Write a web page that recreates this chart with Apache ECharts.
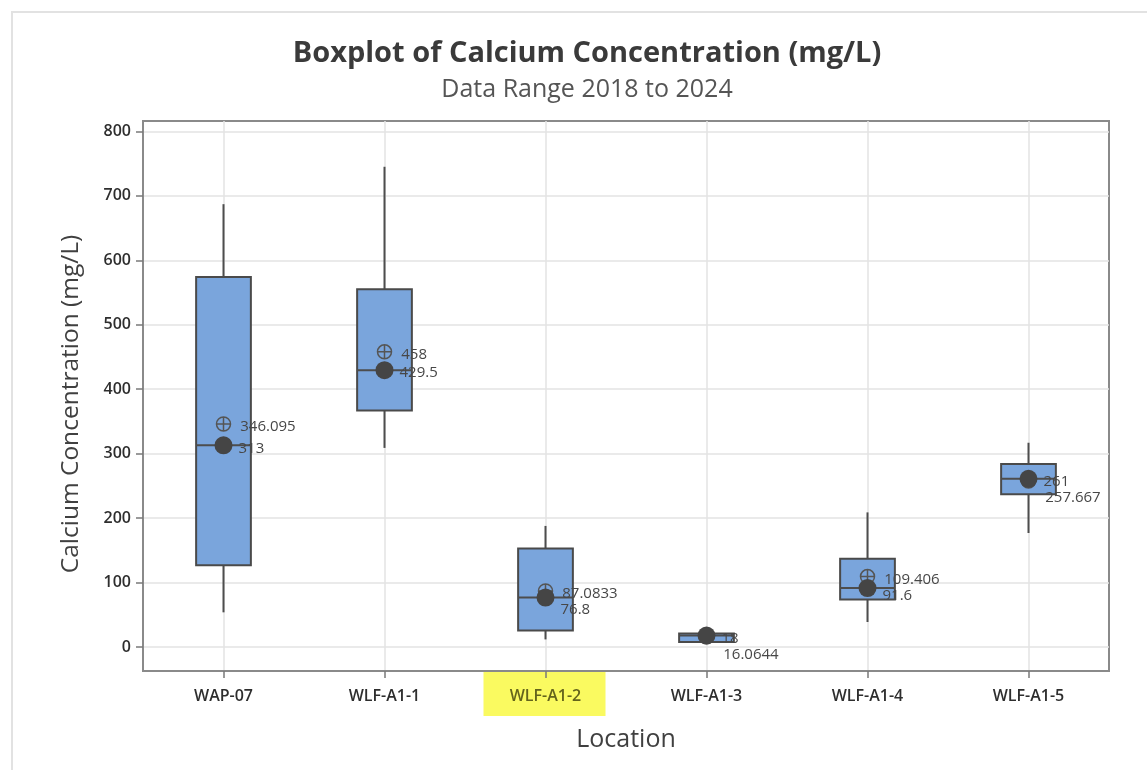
<!DOCTYPE html>
<html><head><meta charset="utf-8">
<script src="https://cdn.jsdelivr.net/npm/echarts@6/dist/echarts.min.js"></script>
<style>html,body{margin:0;padding:0;background:#fff}#c{width:1147px;height:770px}</style>
</head><body><div id="c"></div>
<script>
const categories = ['WAP-07', 'WLF-A1-1', 'WLF-A1-2', 'WLF-A1-3', 'WLF-A1-4', 'WLF-A1-5'];
const whiskerLow = [54, 309, 12, 6, 39, 177];
const q1 = [127, 367, 26, 8, 74, 237];
const median = [313, 429.5, 76.8, 18, 91.6, 261];
const q3 = [574, 555, 153, 21, 137, 284];
const whiskerHigh = [687, 745, 188, 22, 209, 317];
const mean = [346.095, 458, 87.0833, 16.0644, 109.406, 257.667];
const yTicks = [0, 100, 200, 300, 400, 500, 600, 700, 800];
const highlighted = 'WLF-A1-2';

const FONT = '"Open Sans", "Noto Sans", sans-serif';
const chart = echarts.init(document.getElementById('c'), null, {renderer: 'canvas'});

const boxData = categories.map((c, i) => [i, whiskerLow[i], q1[i], median[i], q3[i], whiskerHigh[i]]);
const meanPath = 'path://M1,12 A11,11 0 1,1 23,12 A11,11 0 1,1 1,12 Z M12,1 L12,23 M1,12 L23,12';

function buildOption(meanOffsets, medOffsets, hlX) {
  return {
    animation: false,
    textStyle: {fontFamily: FONT},
    grid: {left: 143, top: 121, right: 38, bottom: 99, show: true, borderColor: '#8a8a8a', borderWidth: 2},
    xAxis: {
      type: 'category', data: categories, boundaryGap: true,
      axisLine: {show: true, onZero: false, lineStyle: {color: '#8a8a8a', width: 2}},
      axisTick: {show: true, inside: false, alignWithLabel: true, length: 7, lineStyle: {color: '#7a7a7a', width: 1.5}},
      axisLabel: {
        fontSize: 16, fontWeight: 600, color: '#2e2e2e', margin: 17, fontFamily: FONT,
        formatter: v => v === highlighted ? '{h|' + v + '}' : v,
        rich: {h: {fontSize: 16, fontWeight: 600, color: '#64641c', fontFamily: FONT}}
      },
      splitLine: {show: true, alignWithLabel: true, lineStyle: {color: '#e3e3e3', width: 1.5}},
      name: 'Location', nameLocation: 'middle', nameGap: 56,
      nameTextStyle: {fontSize: 25, color: '#404040', fontFamily: FONT}
    },
    yAxis: {
      type: 'value', min: -37, max: 816,
      axisLine: {show: true, onZero: false, lineStyle: {color: '#8a8a8a', width: 2}},
      axisTick: {show: true, inside: false, length: 7, customValues: yTicks, lineStyle: {color: '#7a7a7a', width: 1.5}},
      axisLabel: {fontSize: 16, fontWeight: 600, color: '#2e2e2e', margin: 12, customValues: yTicks, fontFamily: FONT},
      splitLine: {show: true, lineStyle: {color: '#e3e3e3', width: 1.5}},
      name: 'Calcium Concentration (mg/L)', nameLocation: 'middle', nameGap: 59,
      nameTextStyle: {fontSize: 24.5, color: '#404040', fontFamily: FONT, padding: [0, 16, 0, 0]}
    },
    graphic: {elements: [
      {type: 'rect', z: -100, shape: {x: 12, y: 12, width: 1200, height: 800}, style: {fill: 'none', stroke: '#e2e2e2', lineWidth: 2}},
      {type: 'text', x: 587, y: 54, style: {text: 'Boxplot of Calcium Concentration (mg/L)', fontSize: 29, fontWeight: 'bold', fontFamily: FONT, fill: '#3a3a3a', align: 'center', verticalAlign: 'middle', textAlign: 'center', textVerticalAlign: 'middle'}},
      {type: 'text', x: 587, y: 90, style: {text: 'Data Range 2018 to 2024', fontSize: 25, fontFamily: FONT, fill: '#555555', align: 'center', verticalAlign: 'middle', textAlign: 'center', textVerticalAlign: 'middle'}},
      {type: 'rect', z: -1, invisible: hlX == null, shape: {x: (hlX || 0) - 62, y: 670, width: 122, height: 46}, style: {fill: '#fafa60'}}
    ]},
    series: [
      {
        type: 'custom', name: 'box', data: boxData, encode: {x: 0, y: [1, 2, 3, 4, 5]}, z: 2,
        renderItem: function (params, api) {
          const i = api.value(0);
          const pLow = api.coord([i, api.value(1)]);
          const pQ1 = api.coord([i, api.value(2)]);
          const pMed = api.coord([i, api.value(3)]);
          const pQ3 = api.coord([i, api.value(4)]);
          const pHigh = api.coord([i, api.value(5)]);
          const half = api.size([1, 0])[0] * 0.17;
          const x = pQ1[0];
          const ls = {stroke: '#4d4d4d', lineWidth: 2};
          return {type: 'group', children: [
            {type: 'line', shape: {x1: x, y1: pHigh[1], x2: x, y2: pQ3[1]}, style: ls},
            {type: 'line', shape: {x1: x, y1: pQ1[1], x2: x, y2: pLow[1]}, style: ls},
            {type: 'rect', shape: {x: x - half, y: pQ3[1], width: 2 * half, height: pQ1[1] - pQ3[1]}, style: {fill: '#7aa5dc', stroke: '#4a4a4a', lineWidth: 2}},
            {type: 'line', shape: {x1: x - half, y1: pMed[1], x2: x + half, y2: pMed[1]}, style: ls}
          ]};
        }
      },
      {
        type: 'scatter', name: 'mean', z: 3, symbol: meanPath, symbolSize: 14,
        itemStyle: {color: 'rgba(0,0,0,0)', borderColor: '#555', borderWidth: 1.5, opacity: 1},
        data: mean.map((v, i) => ({value: [i, v], label: {offset: [0, meanOffsets[i]]}})),
        label: {show: true, position: 'right', distance: 9, fontSize: 15, color: '#474747', fontFamily: FONT, formatter: p => String(mean[p.dataIndex])}
      },
      {
        type: 'scatter', name: 'median', z: 4, symbol: 'circle', symbolSize: 18,
        itemStyle: {color: '#454545', opacity: 1},
        data: median.map((v, i) => ({value: [i, v], label: {offset: [0, medOffsets[i]]}})),
        label: {show: true, position: 'right', distance: 6, fontSize: 15, color: '#474747', fontFamily: FONT, formatter: p => String(median[p.dataIndex])}
      }
    ]
  };
}

const zeros = categories.map(() => 0);
chart.setOption(buildOption(zeros, zeros, null));

// label placement: upper label at its value (+3px), lower label at least 16px below it
const meanOff = [], medOff = [];
categories.forEach((c, i) => {
  const pm = chart.convertToPixel({yAxisIndex: 0}, mean[i]);
  const pd = chart.convertToPixel({yAxisIndex: 0}, median[i]);
  if (pm <= pd) {
    const up = pm + 3;
    const lo = Math.max(pd + 3, up + 16);
    meanOff.push(up - pm); medOff.push(lo - pd);
  } else {
    const up = pd + 3;
    const lo = Math.max(pm + 3, up + 16);
    medOff.push(up - pd); meanOff.push(lo - pm);
  }
});
const hlX = chart.convertToPixel({xAxisIndex: 0}, highlighted);
chart.setOption(buildOption(meanOff, medOff, hlX), true);
</script>
</body></html>
